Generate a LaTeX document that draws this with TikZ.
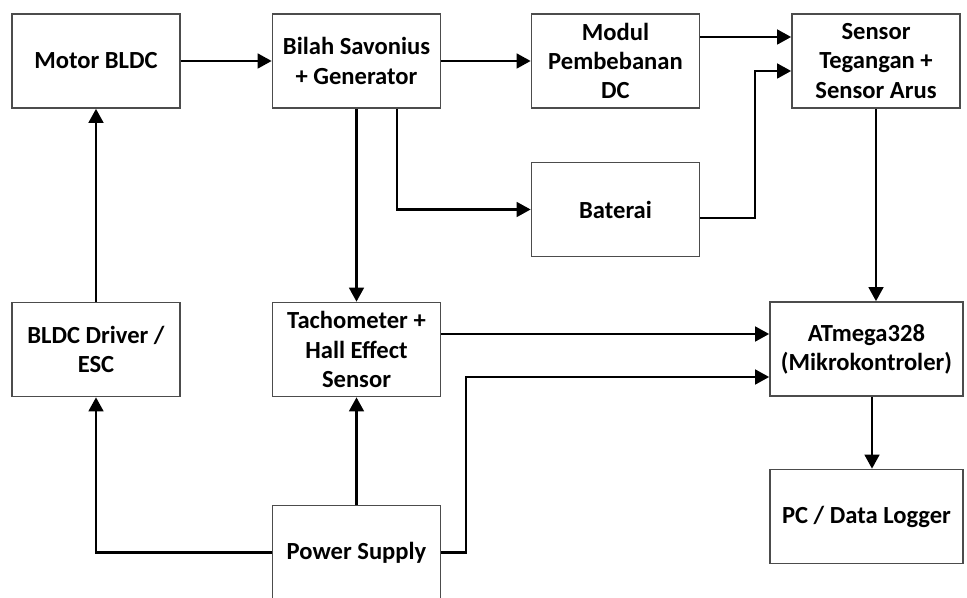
\documentclass[tikz,border=0pt]{standalone}
\usepackage{fontspec}
\setmainfont{Carlito}
\usepackage{tikz}
\usetikzlibrary{calc,arrows.meta}

\begin{document}
\begin{tikzpicture}
  \useasboundingbox (0,0) rectangle (19.34,-11.96);
  \tikzset{blok/.style={draw=black!70,line width=0.9pt,minimum width=3.36cm,minimum height=1.88cm,
                        align=center,inner sep=1pt,font=\fontsize{14}{16.6}\selectfont\bfseries},
           lebar/.style={blok,minimum width=3.86cm},
           alir/.style={line width=1.6pt,-{Triangle[length=2.8mm,width=2.9mm]}}}

 % blocks, top row
  \node[blok] (motor)  at (1.92,-1.22)  {Motor BLDC};
  \node[blok] (bilah)  at (7.13,-1.22)  {Bilah Savonius\\+ Generator};
  \node[blok] (modul)  at (12.31,-1.22) {Modul\\Pembebanan\\DC};
  \node[blok] (sensor) at (17.52,-1.22) {Sensor\\Tegangan +\\Sensor Arus};
  \node[blok] (baterai) at (12.31,-4.19) {Baterai};

 % blocks, lower rows
  \node[blok] (driver) at (1.92,-6.99)  {BLDC Driver /\\ESC};
  \node[blok] (tacho)  at (7.13,-6.99)  {Tachometer +\\Hall Effect\\Sensor};
  \node[lebar] (atmega) at (17.33,-6.98) {ATmega328\\(Mikrokontroler)};
  \node[lebar] (pc)     at (17.33,-10.33) {PC / Data Logger};
  \node[blok] (power)  at (7.13,-11.05) {Power Supply};

 % connections
  \draw[alir] (motor.east) -- (bilah.west);
  \draw[alir] (bilah.east) -- (modul.west);
  \draw[alir] ([yshift=0.48cm]modul.east) -- ([yshift=0.48cm]sensor.west);
  \draw[alir] ([yshift=-0.17cm]baterai.east) -- (15.1,-4.36) -- (15.1,-1.42) -- ([yshift=-0.2cm]sensor.west);
  \draw[alir] ([xshift=0.81cm]bilah.south) |- (baterai.west);
  \draw[alir] (bilah.south) -- (tacho.north);
  \draw[alir] (sensor.south) -- (sensor.south |- atmega.north);
  \draw[alir] ([yshift=0.31cm]tacho.east) -- ([yshift=0.31cm]tacho.east -| atmega.west);
  \draw[alir] (power.east) -- (9.32,-11.05) -- (9.32,-7.54) -- ([yshift=-0.56cm]atmega.west);
  \draw[alir] (power.west) -| (driver.south);
  \draw[alir] (power.north) -- (tacho.south);
  \draw[alir] (driver.north) -- (motor.south);
  \draw[alir] ([xshift=0.11cm]atmega.south) -- ([xshift=0.11cm]pc.north);
\end{tikzpicture}
\end{document}
